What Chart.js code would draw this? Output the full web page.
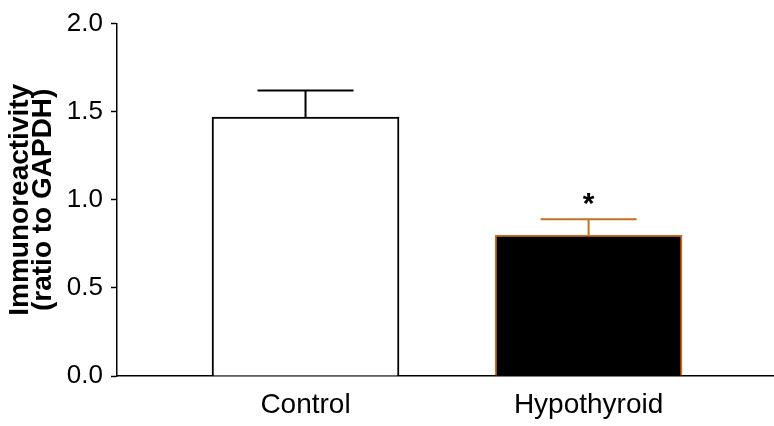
<!DOCTYPE html>
<html>
<head>
<meta charset="utf-8">
<script src="https://cdn.jsdelivr.net/npm/chart.js@4/dist/chart.umd.min.js"></script>
<style>
  html, body { margin: 0; padding: 0; background: #fff; }
  #wrap { width: 774px; height: 426px; }
</style>
</head>
<body>
<div id="wrap"><canvas id="c" width="774" height="426"></canvas></div>
<script>
// Groups, means and SEM (ratio to GAPDH)
const categories = ['Control', 'Hypothyroid'];
const means = [1.47, 0.80];
const sem = [0.15, 0.09];
const significance = ['', '*'];
const yTicks = [0, 0.5, 1.0, 1.5, 2.0];

const fillColors = ['#ffffff', '#000000'];
const edgeColors = ['#000000', '#c8701f'];

// Error bars (upper half) and significance marks drawn through the chart scales
const errorBars = {
  id: 'errorBars',
  afterDatasetsDraw(chart) {
    const ctx = chart.ctx;
    const xs = chart.scales.x, ys = chart.scales.y;
    ctx.save();
    categories.forEach((c, i) => {
      const x = xs.getPixelForValue(i);
      const yTop = ys.getPixelForValue(means[i] + sem[i]);
      const yMean = ys.getPixelForValue(means[i]);
      const half = 48;
      ctx.strokeStyle = edgeColors[i];
      ctx.lineWidth = 2;
      ctx.beginPath();
      ctx.moveTo(x, yMean);
      ctx.lineTo(x, yTop);
      ctx.moveTo(x - half, yTop);
      ctx.lineTo(x + half, yTop);
      ctx.stroke();
      if (significance[i]) {
        ctx.fillStyle = '#000';
        ctx.font = 'bold 30px "Liberation Sans", Arial, sans-serif';
        ctx.textAlign = 'center';
        ctx.textBaseline = 'alphabetic';
        ctx.fillText(significance[i], x, yTop - 6);
      }
    });
    ctx.restore();
  }
};

new Chart(document.getElementById('c'), {
  type: 'bar',
  data: {
    datasets: [{
      data: categories.map((c, i) => ({ x: i, y: means[i] })),
      backgroundColor: fillColors,
      borderColor: edgeColors,
      borderWidth: 2,
      borderSkipped: 'bottom',
      barThickness: 187
    }]
  },
  options: {
    responsive: false,
    animation: false,
    devicePixelRatio: 1,
    layout: { padding: { top: 20, right: 0, left: 0, bottom: 0 } },
    plugins: { legend: { display: false }, tooltip: { enabled: false } },
    scales: {
      x: {
        type: 'linear',
        offset: false,
        min: -0.666,
        max: 1.655,
        afterBuildTicks: s => { s.ticks = categories.map((c, i) => ({ value: i })); },
        afterFit: s => { s.height = 50; },
        ticks: {
          autoSkip: false,
          maxRotation: 0,
          padding: 12,
          color: '#000',
          font: { family: '"Liberation Sans", Arial, sans-serif', size: 28 },
          callback: v => categories[v]
        },
        grid: { display: false, drawTicks: false },
        border: { display: true, color: '#000', width: 1.5 }
      },
      y: {
        min: 0,
        max: 2,
        afterBuildTicks: s => { s.ticks = yTicks.map(v => ({ value: v })); },
        afterFit: s => { s.width = 117; },
        ticks: {
          color: '#000',
          padding: 8,
          font: { family: '"Liberation Sans", Arial, sans-serif', size: 26 },
          callback: v => v.toFixed(1)
        },
        grid: { drawOnChartArea: false, drawTicks: true, tickLength: 6, tickColor: '#000', tickWidth: 1.5 },
        border: { display: true, color: '#000', width: 1.5 },
        title: {
          display: true,
          text: ['Immunoreactivity', '(ratio to GAPDH)'],
          color: '#000',
          font: { family: '"Liberation Sans", Arial, sans-serif', size: 28, weight: 'bold', lineHeight: 0.82 },
          padding: { top: 9, bottom: 0 }
        }
      }
    }
  },
  plugins: [errorBars]
});
</script>
</body>
</html>
